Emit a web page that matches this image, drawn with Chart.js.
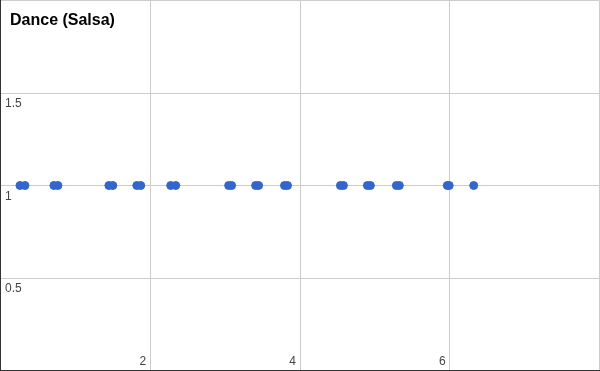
<!DOCTYPE html>
<html>
<head>
<meta charset="utf-8">
<script src="https://cdn.jsdelivr.net/npm/chart.js@4"></script>
<style>
	body { margin: 0; background: #fff; }
</style>
</head>
<body>
<canvas id="salsaChart" width="600" height="371"></canvas>
<script>
	// values
	const chartTitle = 'Dance (Salsa)';
	const xValues = [
		0.26, 0.327, 0.713, 0.767, 1.447, 1.5, 1.82, 1.873, 2.273, 2.34,
		3.047, 3.087, 3.407, 3.447, 3.793, 3.833, 4.54, 4.58, 4.9, 4.94,
		5.287, 5.327, 5.967, 5.993, 6.32
	];
	const yValues = xValues.map(() => 1);
	const xTickLabels = [2, 4, 6];
	const yTickLabels = [0.5, 1, 1.5];

	const points = xValues.map((x, i) => ({ x: x, y: yValues[i] }));

	// no room around the plot: labels are drawn inside it
	function noPadding(scale) {
		scale.paddingTop = 0;
		scale.paddingBottom = 0;
		scale.paddingLeft = 0;
		scale.paddingRight = 0;
	}

	const insideLabels = {
		id: 'insideLabels',
		afterDraw(chart) {
			const ctx = chart.ctx;
			const xScale = chart.scales.x;
			const yScale = chart.scales.y;
			ctx.save();
			ctx.fillStyle = '#444';
			ctx.font = '12px Arial, "Liberation Sans", sans-serif';
			ctx.textBaseline = 'alphabetic';
			ctx.textAlign = 'right';
			xTickLabels.forEach(v => {
				ctx.fillText(String(v), xScale.getPixelForValue(v) - 4, 365);
			});
			ctx.textAlign = 'left';
			yTickLabels.forEach(v => {
				ctx.fillText(String(v), 5, yScale.getPixelForValue(v) + 14);
			});
			ctx.fillStyle = '#000';
			ctx.font = 'bold 16px Arial, "Liberation Sans", sans-serif';
			ctx.fillText(chartTitle, 10, 25);
			ctx.restore();
		}
	};

	new Chart(document.getElementById('salsaChart'), {
		type: 'scatter',
		data: {
			datasets: [{
				data: points,
				backgroundColor: '#3366cc',
				borderColor: '#3366cc',
				borderWidth: 1,
				pointRadius: 4,
				pointHoverRadius: 4
			}]
		},
		options: {
			responsive: false,
			animation: false,
			layout: {
				autoPadding: false,
				padding: { left: 0.5, right: 0.5, top: 0.5, bottom: 0.5 }
			},
			plugins: {
				legend: { display: false },
				tooltip: { enabled: false }
			},
			scales: {
				x: {
					min: 0,
					max: 8,
					ticks: { display: false, stepSize: 2 },
					grid: { color: '#ccc', drawTicks: false },
					border: { color: '#333', width: 1 },
					afterFit: noPadding
				},
				y: {
					min: 0,
					max: 2,
					ticks: { display: false, stepSize: 0.5 },
					grid: { color: '#ccc', drawTicks: false },
					border: { color: '#333', width: 1 },
					afterFit: noPadding
				}
			}
		},
		plugins: [insideLabels]
	});
</script>
</body>
</html>
